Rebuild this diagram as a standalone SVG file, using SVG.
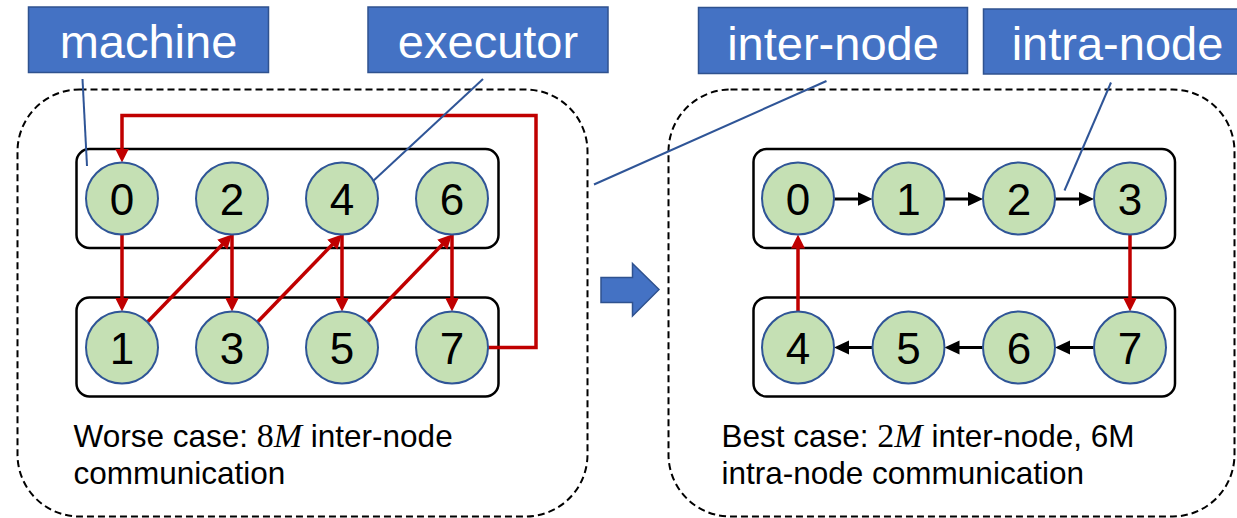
<svg xmlns="http://www.w3.org/2000/svg" width="1237" height="518" viewBox="0 0 1237 518">
  <style>
    .panel { fill: none; stroke: #000; stroke-width: 2; stroke-dasharray: 7 4; }
    .machine { fill: none; stroke: #000; stroke-width: 2.5; }
    .exec circle { fill: #C5E0B4; stroke: #2F5597; stroke-width: 2; }
    .exec text { font-family: "Liberation Sans", Arial, sans-serif; font-size: 44px; fill: #000; text-anchor: middle; }
    .tag rect { fill: #4472C4; stroke: #2F528F; stroke-width: 1.5; }
    .tag text { font-family: "Liberation Sans", Arial, sans-serif; font-size: 47px; fill: #fff; text-anchor: middle; }
    .pointer { stroke: #2F5597; stroke-width: 2; fill: none; }
    .inter { stroke: #C00000; stroke-width: 3.5; fill: none; marker-end: url(#redHead); }
    .intra { stroke: #000; stroke-width: 3; fill: none; marker-end: url(#blackHead); }
    .caption { font-family: "Liberation Sans", Arial, sans-serif; font-size: 31.5px; fill: #000; }
    .math { font-family: "Liberation Serif", "Times New Roman", serif; font-size: 34px; }
  </style>
  <defs>
    <marker id="redHead" markerUnits="userSpaceOnUse" markerWidth="15" markerHeight="15" refX="6" refY="7" orient="auto">
      <path d="M0,0 L14,7 L0,14 z" fill="#C00000"/>
    </marker>
    <marker id="blackHead" markerUnits="userSpaceOnUse" markerWidth="16" markerHeight="15" refX="7" refY="7" orient="auto">
      <path d="M0,0 L15,7 L0,14 z" fill="#000"/>
    </marker>
  </defs>

  <!-- dashed panels -->
  <rect class="panel" x="17.5" y="89.5" width="570" height="427" rx="62" ry="62"/>
  <rect class="panel" x="668.5" y="89.5" width="566" height="427" rx="62" ry="62"/>

  <!-- machines (rows of executors) -->
  <g id="left-machine-a"><rect class="machine" x="76.5" y="149" width="422" height="99" rx="13"/></g>
  <g id="left-machine-b"><rect class="machine" x="76.5" y="297.5" width="422" height="99" rx="13"/></g>
  <g id="right-machine-a"><rect class="machine" x="753.5" y="149" width="421.5" height="99" rx="13"/></g>
  <g id="right-machine-b"><rect class="machine" x="753.5" y="297.5" width="421.5" height="99" rx="13"/></g>

  <!-- connectors -->
  <g id="connectors">
    <!-- worst case ring -->
    <path class="inter" d="M122,234.5 V303.5"/>
    <path class="inter" d="M147.5,322 L226.4,240.3"/>
    <path class="inter" d="M232,234.5 V303.5"/>
    <path class="inter" d="M257.5,322 L336.4,240.3"/>
    <path class="inter" d="M342,234.5 V303.5"/>
    <path class="inter" d="M367.5,322 L446.4,240.3"/>
    <path class="inter" d="M452,234.5 V303.5"/>
    <path class="inter" d="M488,347.5 H536 V115.5 H122 V154.5"/>
    <!-- best case ring -->
    <path class="intra" d="M834,199 H864.5"/>
    <path class="intra" d="M944.5,199 H975"/>
    <path class="intra" d="M1055,199 H1086"/>
    <path class="inter" d="M1130,234.5 V303.5"/>
    <path class="intra" d="M1094,347.5 H1063"/>
    <path class="intra" d="M983,347.5 H952.5"/>
    <path class="intra" d="M872.5,347.5 H842"/>
    <path class="inter" d="M798,311.5 V242.5"/>
    <!-- callout pointers -->
    <path class="pointer" d="M82.5,79 L87,166"/>
    <path class="pointer" d="M483,79 L365,188.5"/>
    <path class="pointer" d="M826.5,81 L594,184.5"/>
    <path class="pointer" d="M1111,82.5 L1064.5,190.5"/>
  </g>

  <!-- executors, worst case -->
  <g id="L0" class="exec"><circle cx="122" cy="198.5" r="36"/><text x="122" y="215">0</text></g>
  <g id="L2" class="exec"><circle cx="232" cy="198.5" r="36"/><text x="232" y="215">2</text></g>
  <g id="L4" class="exec"><circle cx="342" cy="198.5" r="36"/><text x="342" y="215">4</text></g>
  <g id="L6" class="exec"><circle cx="452" cy="198.5" r="36"/><text x="452" y="215">6</text></g>
  <g id="L1" class="exec"><circle cx="122" cy="347.5" r="36"/><text x="122" y="364">1</text></g>
  <g id="L3" class="exec"><circle cx="232" cy="347.5" r="36"/><text x="232" y="364">3</text></g>
  <g id="L5" class="exec"><circle cx="342" cy="347.5" r="36"/><text x="342" y="364">5</text></g>
  <g id="L7" class="exec"><circle cx="452" cy="347.5" r="36"/><text x="452" y="364">7</text></g>

  <!-- executors, best case -->
  <g id="R0" class="exec"><circle cx="798" cy="198.5" r="36"/><text x="798" y="215">0</text></g>
  <g id="R1" class="exec"><circle cx="908.5" cy="198.5" r="36"/><text x="908.5" y="215">1</text></g>
  <g id="R2" class="exec"><circle cx="1019" cy="198.5" r="36"/><text x="1019" y="215">2</text></g>
  <g id="R3" class="exec"><circle cx="1130" cy="198.5" r="36"/><text x="1130" y="215">3</text></g>
  <g id="R4" class="exec"><circle cx="798" cy="347.5" r="36"/><text x="798" y="364">4</text></g>
  <g id="R5" class="exec"><circle cx="908.5" cy="347.5" r="36"/><text x="908.5" y="364">5</text></g>
  <g id="R6" class="exec"><circle cx="1019" cy="347.5" r="36"/><text x="1019" y="364">6</text></g>
  <g id="R7" class="exec"><circle cx="1130" cy="347.5" r="36"/><text x="1130" y="364">7</text></g>

  <!-- callout tags -->
  <g id="tag-machine" class="tag"><rect x="28.5" y="7" width="240" height="65.5"/><text x="148.5" y="58">machine</text></g>
  <g id="tag-executor" class="tag"><rect x="368" y="7" width="240" height="65.5"/><text x="488" y="58">executor</text></g>
  <g id="tag-inter" class="tag"><rect x="698.5" y="7.5" width="269" height="66"/><text x="833" y="59.5">inter-node</text></g>
  <g id="tag-intra" class="tag"><rect x="983.5" y="9" width="270" height="65"/><text x="1117.5" y="60">intra-node</text></g>

  <!-- transition arrow -->
  <g id="transition">
    <path d="M601,277.5 H632.5 V263.5 L659,289.5 L632.5,316 V302.5 H601 z" fill="#4472C4" stroke="#2F528F" stroke-width="1.5"/>
  </g>

  <!-- captions -->
  <g id="caption-worst">
    <text class="caption" x="73.5" y="446.5">Worse case: <tspan class="math">8</tspan><tspan class="math" font-style="italic">M</tspan> inter-node</text>
    <text class="caption" x="73.5" y="483.5">communication</text>
  </g>
  <g id="caption-best">
    <text class="caption" x="721.5" y="446.5">Best case: <tspan class="math">2</tspan><tspan class="math" font-style="italic">M</tspan> inter-node, 6M</text>
    <text class="caption" x="721.5" y="483.5">intra-node communication</text>
  </g>
</svg>
